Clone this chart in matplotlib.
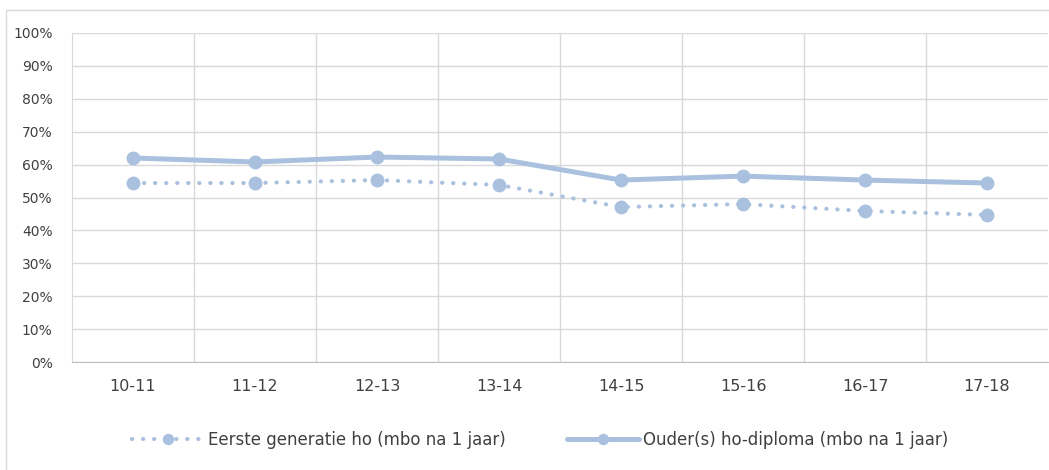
import matplotlib.pyplot as plt
import numpy as np
from matplotlib.patches import Rectangle
from matplotlib.ticker import FuncFormatter

years = ['10-11', '11-12', '12-13', '13-14', '14-15', '15-16', '16-17', '17-18']
eerste_gen = [54.4, 54.4, 55.3, 53.8, 47.1, 48.0, 45.9, 44.7]
ouders_ho = [62.0, 60.8, 62.3, 61.7, 55.3, 56.5, 55.3, 54.4]

kleur = '#a9c1de'
tekst = '#404040'

fig = plt.figure(figsize=(10.49, 4.70), dpi=100)
ax = fig.add_axes([72 / 1049, 1 - 362 / 470, 976 / 1049, 329 / 470])

# buitenrand van de grafiek
fig.patches.append(Rectangle((6 / 1049, -0.01), 1.0, 1 - 10 / 470 + 0.01,
                             transform=fig.transFigure, fill=False,
                             edgecolor='#d9d9d9', lw=1))

x = np.arange(len(years))
ax.plot(x, eerste_gen, color=kleur, lw=3.0, linestyle=(0, (0.05, 2.6)),
        dash_capstyle='round', marker='o', markersize=9,
        label='Eerste generatie ho (mbo na 1 jaar)')
ax.plot(x, ouders_ho, color=kleur, lw=3.6, solid_capstyle='round',
        marker='o', markersize=9,
        label='Ouder(s) ho-diploma (mbo na 1 jaar)')

ax.set_xlim(-0.5, len(years) - 0.5)
ax.set_ylim(0, 100)
ax.set_yticks(np.arange(0, 101, 10))
ax.yaxis.set_major_formatter(FuncFormatter(lambda v, p: f'{v:.0f}%'))
ax.set_xticks(x)
ax.set_xticklabels(years)
ax.set_xticks(np.arange(0.5, len(years) - 0.5, 1), minor=True)

ax.grid(axis='y', color='#d9d9d9', lw=1)
ax.grid(axis='x', which='minor', color='#d9d9d9', lw=1)
ax.set_axisbelow(True)
for s in ['top', 'right']:
    ax.spines[s].set_visible(False)
ax.spines['left'].set_color('#d9d9d9')
ax.spines['bottom'].set_color('#bfbfbf')
ax.tick_params(axis='both', which='both', length=0, colors=tekst)
ax.tick_params(axis='x', pad=12, labelsize=11.5)
ax.tick_params(axis='y', pad=14, labelsize=10)

fig.legend(loc='center', bbox_to_anchor=(540 / 1049, 1 - 440 / 470), ncol=2,
           frameon=False, fontsize=12, labelcolor=tekst, handlelength=4.3,
           handletextpad=0.25, columnspacing=3.7, markerscale=0.8)

plt.savefig('out.png', dpi=100)
